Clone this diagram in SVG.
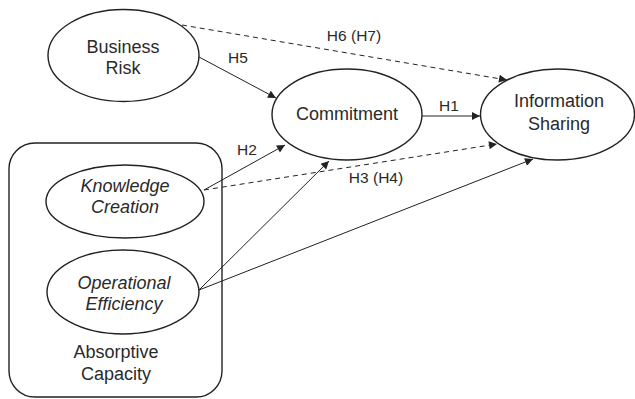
<svg xmlns="http://www.w3.org/2000/svg" width="635" height="399" viewBox="0 0 635 399">
  <style>
    .shape { fill: #fff; stroke: #222; stroke-width: 1.4; }
    .lbl { font-family: "Liberation Sans", Arial, sans-serif; font-size: 18px; fill: #2a2a2a; text-anchor: middle; }
    .it { font-style: italic; }
    .hyp { font-family: "Liberation Sans", Arial, sans-serif; font-size: 15.5px; fill: #2a2a2a; text-anchor: middle; }
    .edge { fill: none; stroke: #222; stroke-width: 1; marker-end: url(#arrow); }
    .dash { stroke-dasharray: 5 4; }
  </style>
  <defs>
    <marker id="arrow" viewBox="0 0 10 10" refX="10" refY="5" markerWidth="10" markerHeight="8" markerUnits="userSpaceOnUse" orient="auto">
      <path d="M0,0 L10,5 L0,10 z" fill="#222"/>
    </marker>
  </defs>

  <rect width="635" height="399" fill="#fff"/>

  <!-- absorptive capacity container -->
  <g id="absorptive-capacity">
    <rect class="shape" x="9" y="143" width="213" height="254" rx="26" ry="26"/>
    <text class="lbl" x="116" y="358">Absorptive</text>
    <text class="lbl" x="116" y="380">Capacity</text>
  </g>

  <g id="business-risk">
    <ellipse class="shape" cx="123.5" cy="55.5" rx="75.5" ry="46"/>
    <text class="lbl" x="123" y="53">Business</text>
    <text class="lbl" x="123" y="74">Risk</text>
  </g>

  <g id="commitment">
    <ellipse class="shape" cx="347" cy="114.5" rx="75" ry="45.5"/>
    <text class="lbl" x="347" y="120">Commitment</text>
  </g>

  <g id="information-sharing">
    <ellipse class="shape" cx="557.5" cy="114.5" rx="77" ry="45.5"/>
    <text class="lbl" x="559" y="107">Information</text>
    <text class="lbl" x="559" y="130">Sharing</text>
  </g>

  <g id="knowledge-creation">
    <ellipse class="shape" cx="125" cy="201.5" rx="79" ry="36.5"/>
    <text class="lbl it" x="125" y="192">Knowledge</text>
    <text class="lbl it" x="125" y="213">Creation</text>
  </g>

  <g id="operational-efficiency">
    <ellipse class="shape" cx="123" cy="292" rx="76" ry="42"/>
    <text class="lbl it" x="124" y="289">Operational</text>
    <text class="lbl it" x="124" y="310">Efficiency</text>
  </g>

  <!-- hypothesised paths -->
  <g id="connectors">
    <line class="edge" x1="199" y1="57" x2="276" y2="98"/>
    <line class="edge dash" x1="182" y1="25" x2="507" y2="80"/>
    <line class="edge" x1="422" y1="116" x2="480" y2="116"/>
    <line class="edge" x1="204" y1="190" x2="285" y2="145"/>
    <line class="edge dash" x1="204" y1="190" x2="497" y2="144"/>
    <line class="edge" x1="199" y1="290" x2="329" y2="161"/>
    <line class="edge" x1="199" y1="290" x2="533" y2="159"/>
  </g>

  <g id="hypothesis-labels">
    <text class="hyp" x="238" y="63">H5</text>
    <text class="hyp" x="354" y="41">H6 (H7)</text>
    <text class="hyp" x="449" y="111">H1</text>
    <text class="hyp" x="247" y="155">H2</text>
    <text class="hyp" x="376" y="183">H3 (H4)</text>
  </g>
</svg>
